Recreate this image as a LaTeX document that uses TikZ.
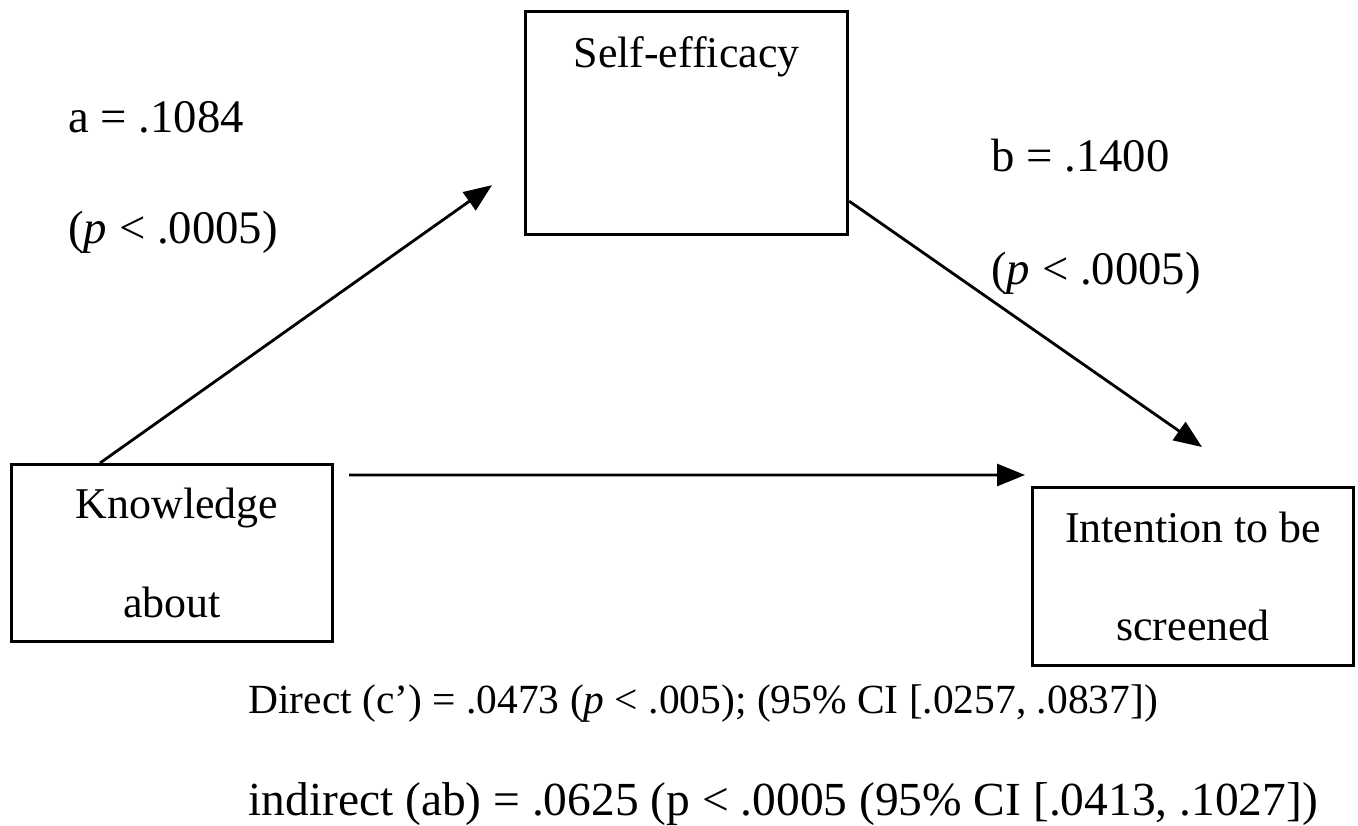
\documentclass[tikz,border=0pt]{standalone}
\usepackage{fontspec}
\setmainfont{Liberation Serif}
\usetikzlibrary{positioning,arrows.meta}

\begin{document}
\begin{tikzpicture}[
  >={Triangle[length=0.28cm,width=0.22cm]}, line width=0.8pt,
  var/.style={draw,line width=0.9pt,inner sep=0pt,align=center,font=\fontsize{12.5}{15}\selectfont},
  coef/.style={inner sep=0pt,anchor=base west,font=\fontsize{13.3}{16}\selectfont},
  effect/.style={inner sep=0pt,anchor=base west}
]
\useasboundingbox (0,0) rectangle (13.58,8.25);
\node[var,minimum width=3.22cm,text height=0.56cm,text depth=1.67cm,anchor=north west] (self) at (5.24,8.15) {Self-efficacy};
\node[var,minimum width=3.21cm,minimum height=1.77cm,anchor=north west] (know) at (0.10,3.62) {\hspace{0.1cm}Knowledge\\[0.46cm]about};
\node[var,minimum width=3.21cm,minimum height=1.78cm,anchor=north west] (intent) at (10.31,3.39) {Intention to be\\[0.46cm]screened};
\node[coef] (a) at (0.67,6.92) {a = .1084};
\node[coef,below=1.10cm of a.base west,anchor=base west] (pa) {(\textit{p} < .0005)};
\node[coef] (b) at (9.90,6.53) {b = .1400};
\node[coef,below=1.12cm of b.base west,anchor=base west] (pb) {(\textit{p} < .0005)};
\node[effect,font=\fontsize{11.8}{14}\selectfont] (direct) at (2.47,1.12) {Direct (c’) = .0473 (\textit{p} < .005); (95\% CI [.0257, .0837])};
\node[effect,font=\fontsize{13.5}{16}\selectfont,below=1.02cm of direct.base west,anchor=base west] (indirect) {indirect (ab) = .0625 (p < .0005 (95\% CI [.0413, .1027])};
\draw[->] ([xshift=0.9cm]know.north west) -- ([xshift=-0.32cm,yshift=0.51cm]self.south west);
\draw[->] ([yshift=0.35cm]self.south east) -- ([xshift=1.71cm,yshift=0.39cm]intent.north west);
\draw[->] ([xshift=0.15cm,yshift=-0.12cm]know.north east) -- ([xshift=-0.06cm,yshift=0.11cm]intent.north west);
\end{tikzpicture}
\end{document}
